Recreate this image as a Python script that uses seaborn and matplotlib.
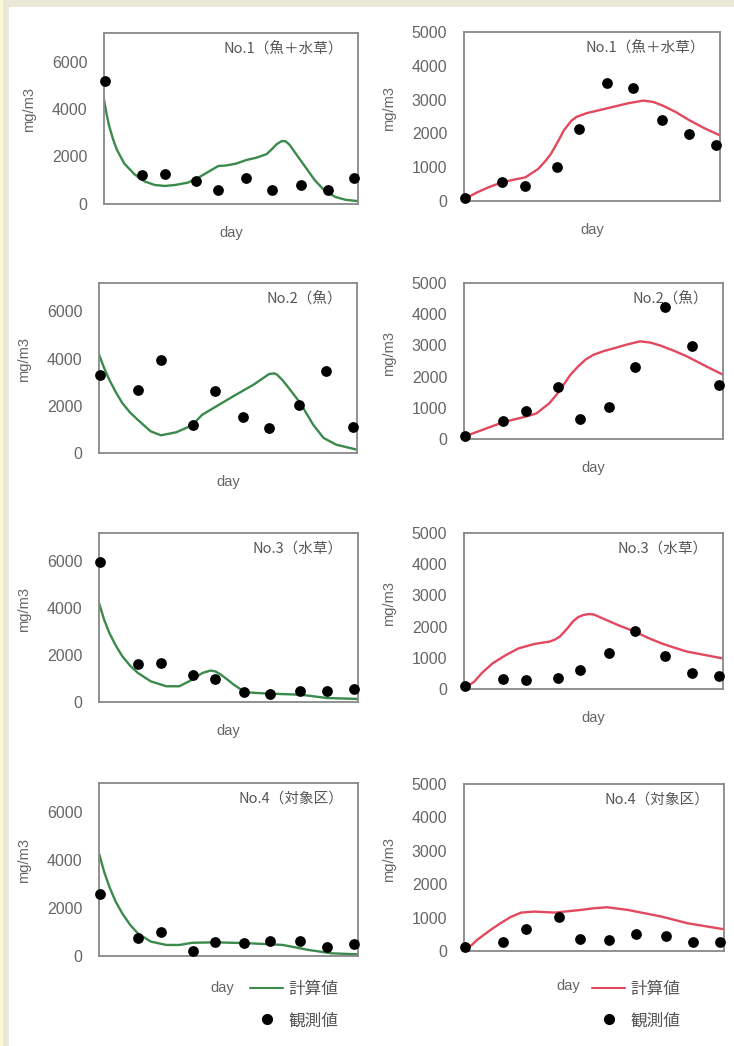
import matplotlib
matplotlib.use("Agg")
import matplotlib.pyplot as plt
from matplotlib.patches import Rectangle
from matplotlib.lines import Line2D
import seaborn as sns

# ---------------- data ----------------
obs_days = [0.3, 15, 24, 36.4, 44.8, 55.8, 66, 77.5, 88, 98.5]

titles = ["No.1（魚＋水草）", "No.2（魚）", "No.3（水草）", "No.4（対象区）"]

# left column (green)
obs_left_1 = [5200, 1230, 1260, 950, 600, 1090, 600, 780, 600, 1090]
sim_left_1_days = [0, 1, 2, 3.5, 5, 8, 12, 16, 20, 24, 28, 33, 37, 41, 45, 48, 52, 56, 60, 64, 66, 68, 70, 71.5, 73, 75, 79, 83, 87, 91, 95, 100]
sim_left_1 = [4400, 3800, 3300, 2750, 2300, 1700, 1250, 950, 800, 760, 800, 900, 1100, 1350, 1600, 1620, 1700, 1850, 1950, 2100, 2300, 2520, 2650, 2640, 2500, 2200, 1600, 1000, 550, 300, 180, 120]

obs_left_2 = [3290, 2650, 3950, 1170, 2610, 1520, 1060, 2050, 3490, 1090]
sim_left_2_days = [0, 2, 4, 6.5, 9, 12, 15, 20, 24, 30, 36, 40, 44, 52, 60, 64, 66, 68, 69, 71, 73, 78, 83, 87, 92, 100]
sim_left_2 = [4170, 3600, 3100, 2580, 2120, 1720, 1410, 920, 750, 880, 1170, 1620, 1880, 2400, 2900, 3200, 3350, 3370, 3320, 3100, 2830, 2120, 1200, 640, 350, 140]

obs_left_3 = [5970, 1620, 1680, 1140, 980, 410, 360, 480, 480, 550]
sim_left_3_days = [0, 2, 4, 6.5, 9, 12, 15, 20, 26, 31, 36, 38, 40, 43, 45, 47, 50, 52, 55, 57, 65, 78, 88, 100]
sim_left_3 = [4220, 3500, 2940, 2400, 1950, 1550, 1240, 880, 670, 670, 950, 1100, 1240, 1340, 1300, 1170, 920, 740, 520, 410, 360, 310, 170, 130]

obs_left_4 = [2600, 760, 1010, 210, 570, 530, 620, 640, 390, 490]
sim_left_4_days = [0, 2, 4, 6.5, 9, 12, 15, 20, 26, 31, 36, 45, 58, 71, 81, 90, 100]
sim_left_4 = [4270, 3500, 2880, 2250, 1770, 1300, 940, 600, 460, 460, 550, 570, 530, 460, 250, 110, 70]

# right column (red)
obs_right_1 = [100, 555, 430, 1000, 2140, 3480, 3350, 2390, 1970, 1650]
sim_right_1_days = [0, 5, 10, 15, 20, 24, 29, 32, 34, 37, 39, 42, 44, 48, 53, 58, 64, 70, 74, 78, 83, 88, 94, 100]
sim_right_1 = [50, 250, 420, 555, 640, 700, 950, 1200, 1400, 1800, 2090, 2380, 2490, 2600, 2690, 2780, 2890, 2970, 2930, 2810, 2620, 2390, 2150, 1940]

obs_right_2 = [110, 590, 910, 1680, 630, 1040, 2320, 4230, 2990, 1720]
sim_right_2_days = [0, 15, 20, 24, 28, 33, 36, 38, 41, 44, 47, 50, 54, 58, 63, 68, 72, 76, 81, 86, 93, 100]
sim_right_2 = [75, 535, 640, 720, 820, 1150, 1450, 1680, 2050, 2320, 2550, 2700, 2820, 2910, 3030, 3130, 3090, 2990, 2830, 2650, 2350, 2060]

obs_right_3 = [100, 320, 280, 360, 600, 1140, 1870, 1070, 500, 430]
sim_right_3_days = [0, 4, 7, 11, 16, 21, 27, 33, 35, 37, 40, 42, 44, 46, 48, 50, 52, 55, 60, 66, 71, 76, 81, 86, 93, 100]
sim_right_3 = [0, 240, 520, 820, 1080, 1300, 1440, 1520, 1580, 1680, 1950, 2160, 2300, 2370, 2400, 2390, 2320, 2210, 2030, 1840, 1640, 1470, 1330, 1200, 1090, 980]

obs_right_4 = [110, 280, 650, 1030, 360, 330, 510, 450, 280, 280]
sim_right_4_days = [0, 3, 5, 10, 14, 18, 22, 27, 35, 45, 50, 55, 63, 76, 86, 100]
sim_right_4 = [50, 180, 330, 620, 830, 1020, 1150, 1180, 1150, 1230, 1280, 1310, 1230, 1030, 830, 650]

left_yticks = [0, 2000, 4000, 6000]
right_yticks = [0, 1000, 2000, 3000, 4000, 5000]
legend_labels = ["計算値", "観測値"]

# ---------------- style ----------------
sns.set_theme(style="white")
plt.rcParams["font.family"] = ["Liberation Sans", "Noto Sans CJK JP", "DejaVu Sans"]

W, H = 734, 1046
fig = plt.figure(figsize=(W / 100, H / 100), dpi=100)
fig.patch.set_facecolor("white")

# page border bands
fig.patches.append(Rectangle((0, 1 - 7 / H), 1, 7 / H, transform=fig.transFigure,
                             facecolor="#ebe8da", edgecolor="none", zorder=-10))
fig.patches.append(Rectangle((0, 0), 9 / W, 1, transform=fig.transFigure,
                             facecolor="#ebe8da", edgecolor="none", zorder=-10))
fig.patches.append(Rectangle((0, 0), 3 / W, 1, transform=fig.transFigure,
                             facecolor="#fbf8d4", edgecolor="none", zorder=-9))

GREEN = "#3b8a4c"
RED = "#e2485e"
GRAY = "#666666"

def add_ax(x0, y0, x1, y1):
    return fig.add_axes([x0 / W, 1 - y1 / H, (x1 - x0) / W, (y1 - y0) / H])

boxes_left = [(104, 33, 358, 204), (99, 283, 357, 453), (99, 533, 358, 702), (99, 783, 358, 956)]
boxes_right = [(464, 32, 720, 201), (464, 283, 723, 439), (464, 533, 723, 689), (464, 784, 724, 951)]

left_data = [(obs_left_1, sim_left_1_days, sim_left_1),
             (obs_left_2, sim_left_2_days, sim_left_2),
             (obs_left_3, sim_left_3_days, sim_left_3),
             (obs_left_4, sim_left_4_days, sim_left_4)]
right_data = [(obs_right_1, sim_right_1_days, sim_right_1),
              (obs_right_2, sim_right_2_days, sim_right_2),
              (obs_right_3, sim_right_3_days, sim_right_3),
              (obs_right_4, sim_right_4_days, sim_right_4)]

def draw(box, data, color, ymax, yticks, title, daylab_dx=0.0, daylab_dy=22):
    ax = add_ax(*box)
    obs, sdays, sim = data
    sns.lineplot(x=sdays, y=sim, ax=ax, color=color, lw=1.7)
    sns.scatterplot(x=obs_days, y=obs, ax=ax, color="black", s=60,
                    edgecolor="black", linewidth=0, zorder=4)
    ax.collections[-1].set_clip_on(False)
    ax.set_xlim(0, 100)
    ax.set_ylim(0, ymax)
    ax.set_xticks([30, 60, 90])
    ax.set_xticklabels([])
    ax.set_yticks(yticks)
    ax.set_yticklabels([str(t) for t in yticks])
    ax.tick_params(axis="y", direction="in", length=3, pad=12, labelsize=11.5,
                   labelcolor=GRAY, color="#aaaaaa")
    ax.tick_params(axis="x", direction="in", length=3, color="#cccccc")
    for sp in ax.spines.values():
        sp.set_color("#888888")
        sp.set_linewidth(1.3)
    wpx = box[2] - box[0]
    hpx = box[3] - box[1]
    ax.set_ylabel("mg/m3", fontsize=10.5, color=GRAY)
    ax.yaxis.set_label_coords(-68 / wpx, 0.55)
    ax.set_xlabel("day", fontsize=10.5, color=GRAY)
    ax.xaxis.set_label_coords(0.5 + daylab_dx, -daylab_dy / hpx)
    ax.text(1 - 15 / wpx, 1 - 16 / hpx, title, transform=ax.transAxes, ha="right", va="center",
            fontsize=10.5, color="#555555", family=["Noto Sans CJK JP", "DejaVu Sans"])
    return ax

for i in range(4):
    dx = -0.025 if i == 3 else 0.0
    dy = 25 if i == 3 else 22
    draw(boxes_left[i], left_data[i], GREEN, 7200, left_yticks, titles[i], dx, dy)
for i in range(4):
    dx = -0.1 if i == 3 else 0.0
    dy = 28 if i == 3 else 22
    draw(boxes_right[i], right_data[i], RED, 5000, right_yticks, titles[i], dx, dy)

def add_legend(color, x_px, y_px):
    handles = [Line2D([], [], color=color, lw=1.5),
               Line2D([], [], color="black", marker="o", ls="none", markersize=7)]
    leg = fig.legend(handles, legend_labels, loc="upper left",
                     bbox_to_anchor=(x_px / W, 1 - y_px / H), bbox_transform=fig.transFigure,
                     frameon=False, borderpad=0, borderaxespad=0, handlelength=2.0,
                     handletextpad=0.3, labelspacing=0.85,
                     prop={"family": ["Noto Sans CJK JP", "DejaVu Sans"], "size": 12})
    for t in leg.get_texts():
        t.set_color("#555555")

add_legend(GREEN, 250, 981)
add_legend(RED, 592, 981)

fig.savefig("out.png", dpi=100, facecolor=fig.get_facecolor())
